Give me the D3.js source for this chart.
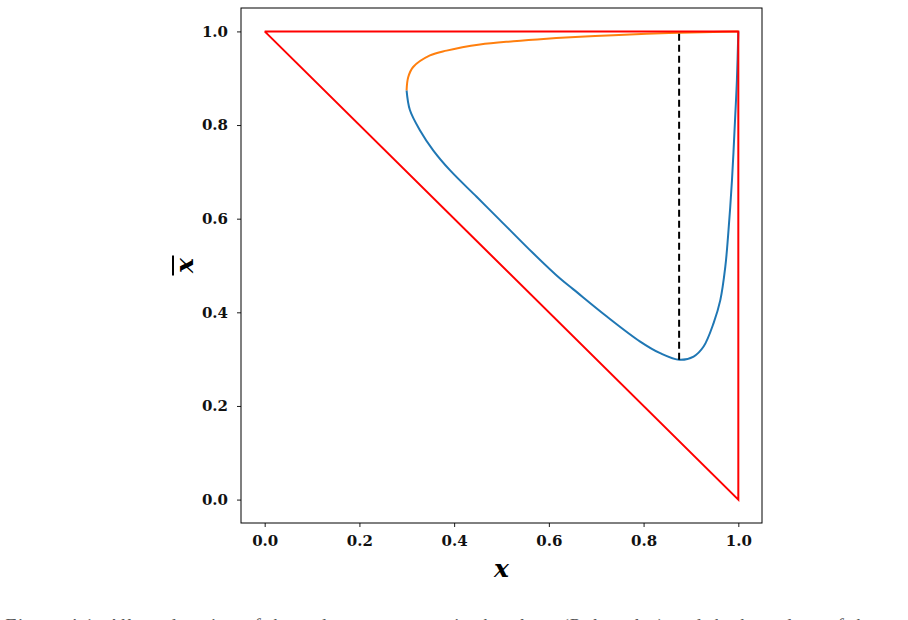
<!DOCTYPE html>
<html>
<head>
<meta charset="utf-8">
<script src="https://cdn.jsdelivr.net/npm/d3@7"></script>
<style>
  body { margin: 0; background: #fff; }
  svg { display: block; }
  .tick text { font-family: "DejaVu Serif", "Liberation Serif", serif; font-weight: bold; }
</style>
</head>
<body>
<svg id="chart" width="908" height="620"></svg>
<script>
// boundary of the allowed region (red)
const boundaryX = [0, 1, 1, 0];
const boundaryY = [1, 1, 0, 1];

// lower branch (blue)
const lowerX = [0.2996, 0.3066, 0.3277, 0.3558, 0.3911, 0.4475, 0.4968, 0.567, 0.6237, 0.6518,
  0.7224, 0.7928, 0.835, 0.876, 0.9056, 0.9267, 0.9478, 0.962, 0.9725, 0.9785, 0.9866, 0.9937, 0.997, 1.0];
const lowerY = [0.874, 0.832, 0.789, 0.746, 0.7036, 0.6467, 0.597, 0.526, 0.472, 0.449,
  0.391, 0.3375, 0.3127, 0.2985, 0.3056, 0.327, 0.377, 0.426, 0.497, 0.565, 0.682, 0.824, 0.895, 1.0];

// upper branch (orange)
const upperX = [0.2996, 0.303, 0.3135, 0.349, 0.384, 0.4545, 0.525, 0.5955, 0.666, 0.736, 0.807, 0.877, 0.947, 1.0];
const upperY = [0.874, 0.902, 0.924, 0.9488, 0.959, 0.972, 0.979, 0.9844, 0.9887, 0.992, 0.995, 0.997, 0.999, 1.0];

// dashed marker at the minimum
const markerX = [0.875, 0.875];
const markerY = [0.2985, 1.0];

const xTicks = [0, 0.2, 0.4, 0.6, 0.8, 1.0];
const yTicks = [0, 0.2, 0.4, 0.6, 0.8, 1.0];

const svg = d3.select('#chart');
const margin = { left: 241, top: 8, right: 146, bottom: 97 };
const W = 908 - margin.left - margin.right;
const H = 620 - margin.top - margin.bottom;

const x = d3.scaleLinear().domain([-0.05, 1.05]).range([0, W]);
const y = d3.scaleLinear().domain([-0.05, 1.05]).range([H, 0]);

const g = svg.append('g').attr('transform', `translate(${margin.left},${margin.top})`);

const zip = (a, b) => a.map((v, i) => [v, b[i]]);
const line = d3.line().x(d => x(d[0])).y(d => y(d[1]));
const smooth = d3.line().curve(d3.curveCatmullRom.alpha(0.5)).x(d => x(d[0])).y(d => y(d[1]));

g.append('path')
  .attr('d', smooth(zip(lowerX, lowerY)))
  .attr('fill', 'none')
  .attr('stroke', '#1f77b4')
  .attr('stroke-width', 2);

g.append('path')
  .attr('d', smooth(zip(upperX, upperY)))
  .attr('fill', 'none')
  .attr('stroke', '#ff7f0e')
  .attr('stroke-width', 2);

g.append('path')
  .attr('d', line(zip(boundaryX, boundaryY)))
  .attr('fill', 'none')
  .attr('stroke', '#ff0000')
  .attr('stroke-width', 2)
  .attr('stroke-linejoin', 'miter');

g.append('path')
  .attr('d', line(zip(markerX, markerY)))
  .attr('fill', 'none')
  .attr('stroke', '#000')
  .attr('stroke-width', 2)
  .attr('stroke-dasharray', '7,4');

// frame
g.append('rect')
  .attr('width', W).attr('height', H)
  .attr('fill', 'none').attr('stroke', '#000').attr('stroke-width', 1);

const xAxis = g.append('g')
  .attr('transform', `translate(0,${H})`)
  .call(d3.axisBottom(x).tickValues(xTicks).tickFormat(d3.format('.1f')).tickSize(4).tickPadding(8));
const yAxis = g.append('g')
  .call(d3.axisLeft(y).tickValues(yTicks).tickFormat(d3.format('.1f')).tickSize(4).tickPadding(9));

[xAxis, yAxis].forEach(a => {
  a.select('.domain').remove();
  a.selectAll('.tick line').attr('stroke', '#000').attr('stroke-width', 0.9);
  a.selectAll('.tick text').attr('font-size', 15).attr('fill', '#111');
});

// axis labels
svg.append('text')
  .attr('x', margin.left + W / 2)
  .attr('y', 577)
  .attr('text-anchor', 'middle')
  .attr('font-family', '"DejaVu Serif", "Liberation Serif", serif')
  .attr('font-style', 'italic')
  .attr('font-weight', 'bold')
  .attr('font-size', 25)
  .text('x');

const ylab = svg.append('g')
  .attr('transform', `translate(193,${margin.top + y(0.5)}) rotate(-90)`);
ylab.append('text')
  .attr('text-anchor', 'middle')
  .attr('font-family', '"DejaVu Serif", "Liberation Serif", serif')
  .attr('font-style', 'italic')
  .attr('font-weight', 'bold')
  .attr('font-size', 25)
  .text('x');
ylab.append('line')
  .attr('x1', -10).attr('x2', 10)
  .attr('y1', -20).attr('y2', -20)
  .attr('stroke', '#000').attr('stroke-width', 2);

// caption, clipped by the page edge as in the source figure
svg.append('text')
  .attr('x', 4)
  .attr('y', 632)
  .attr('textLength', 900)
  .attr('font-family', '"Liberation Serif", "DejaVu Serif", serif')
  .attr('font-style', 'italic')
  .attr('font-size', 19)
  .attr('fill', '#555')
  .text('Figure 4.1: Allowed region of the order parameters in the plane (Polar plot) and the boundary of the set');
</script>
</body>
</html>
